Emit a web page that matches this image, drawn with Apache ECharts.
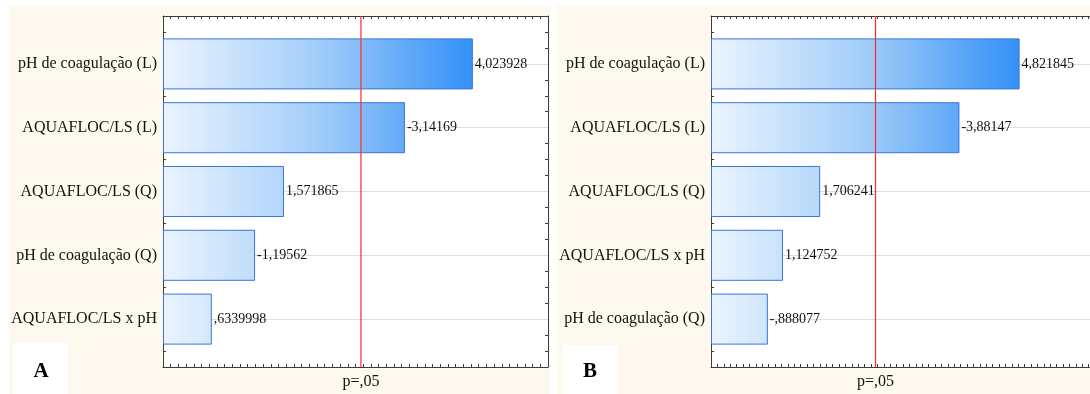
<!DOCTYPE html>
<html>
<head>
<meta charset="utf-8">
<script src="https://cdn.jsdelivr.net/npm/echarts@6/dist/echarts.min.js"></script>
<style>
html,body{margin:0;padding:0;background:#fff;}
#c{width:1090px;height:394px;}
</style>
</head>
<body>
<div id="c"></div>
<script>
// ---- data ----
const categoriesA = ['pH de coagulação (L)', 'AQUAFLOC/LS (L)', 'AQUAFLOC/LS (Q)', 'pH de coagulação (Q)', 'AQUAFLOC/LS x pH'];
const effectsA = [4.023928, -3.14169, 1.571865, -1.19562, 0.6339998];
const categoriesB = ['pH de coagulação (L)', 'AQUAFLOC/LS (L)', 'AQUAFLOC/LS (Q)', 'AQUAFLOC/LS x pH', 'pH de coagulação (Q)'];
const effectsB = [4.821845, -3.88147, 1.706241, 1.124752, -0.888077];
const critT = 2.570582;          // t critical value, p = .05
const critLabel = 'p=,05';
const axisMaxA = 5;
const axisMaxB = 6;
const panelLabels = ['A', 'B'];

const FONT = 'Liberation Serif';
const RED = '#ff2b2b';

function fmt(v) {
  let s = v.toPrecision(7);
  if (s.indexOf('.') >= 0) s = s.replace(/0+$/, '').replace(/\.$/, '');
  s = s.replace(/^(-?)0\./, '$1.');
  return s.replace('.', ',');
}

const panels = [
  { cats: categoriesA, eff: effectsA, max: axisMaxA, frame: {left: 163, top: 16, width: 385, height: 351}, bars: {left: 163, top: 32, width: 385, height: 319} },
  { cats: categoriesB, eff: effectsB, max: axisMaxB, frame: {left: 711, top: 16, width: 384, height: 351}, bars: {left: 711, top: 32, width: 384, height: 319} }
];

const grid = [], xAxis = [], yAxis = [], series = [];
const axisCol = '#3c3c3c';
panels.forEach((p, k) => {
  const gF = grid.length;
  grid.push(Object.assign({show: true, backgroundColor: '#ffffff', borderWidth: 0, outerBoundsMode: 'none', containLabel: false}, p.frame));
  const gB = grid.length;
  grid.push(Object.assign({show: false, outerBoundsMode: 'none', containLabel: false}, p.bars));

  const frameX = (pos, labels) => ({
    type: 'value', gridIndex: gF, position: pos, min: 0, max: p.max, interval: 0.1,
    axisLine: {show: true, onZero: false, lineStyle: {color: axisCol, width: 1}},
    axisTick: {show: true, inside: true, length: 3, lineStyle: {color: axisCol}},
    axisLabel: labels ? {show: true, customValues: [critT], formatter: () => critLabel,
      fontFamily: FONT, fontSize: 16, color: '#111', margin: 7} : {show: false},
    splitLine: {show: false}
  });
  const xF = xAxis.length; xAxis.push(frameX('bottom', true));
  xAxis.push(frameX('top', false));
  const xB = xAxis.length;
  xAxis.push({type: 'value', gridIndex: gB, min: 0, max: p.max, show: false});

  const frameY = (pos) => ({
    type: 'value', gridIndex: gF, position: pos, min: 0, max: 22, interval: 1,
    axisLine: {show: true, onZero: false, lineStyle: {color: axisCol, width: 1}},
    axisTick: {show: true, inside: true, length: 3, lineStyle: {color: axisCol}},
    axisLabel: {show: false}, splitLine: {show: false}
  });
  const yF = yAxis.length; yAxis.push(frameY('left'));
  yAxis.push(frameY('right'));
  const yB = yAxis.length;
  yAxis.push({
    type: 'category', gridIndex: gB, inverse: true, data: p.cats,
    axisLine: {show: false}, axisTick: {show: false}, splitLine: {show: false},
    axisLabel: {fontFamily: FONT, fontSize: 16, color: '#111', margin: 6}
  });

  const eff = p.eff;
  series.push({
    type: 'bar', xAxisIndex: xB, yAxisIndex: yB, barWidth: '80%', z: 2,
    data: eff.map(v => Math.abs(v)),
    itemStyle: {color: '#8ec3fa', borderColor: '#3874dc', borderWidth: 1},
    label: {show: true, position: 'right', distance: 2, fontFamily: FONT, fontSize: 14, color: '#111',
      formatter: (pr) => fmt(eff[pr.dataIndex])},
    markLine: {
      silent: true, z: 1, symbol: 'none', label: {show: false},
      lineStyle: {color: '#dedede', width: 1, type: 'solid'},
      data: p.cats.map(c => ({yAxis: c}))
    }
  });
  series.push({
    type: 'line', xAxisIndex: xF, yAxisIndex: yF, z: 5, silent: true, symbol: 'none',
    color: RED, lineStyle: {color: RED, width: 1.2},
    emphasis: {disabled: true},
    data: [[critT, 0], [critT, 22]]
  });
});

const graphic = [
  {type: 'rect', z: -10, shape: {x: 9, y: 6, width: 541, height: 388}, style: {fill: '#fdf9ef'}, silent: true},
  {type: 'rect', z: -10, shape: {x: 557, y: 6, width: 533, height: 388}, style: {fill: '#fdf9ef'}, silent: true},
  {type: 'rect', z: 10, shape: {x: 13, y: 343, width: 55, height: 51}, style: {fill: '#ffffff'}, silent: true},
  {type: 'rect', z: 10, shape: {x: 563, y: 345, width: 54, height: 49}, style: {fill: '#ffffff'}, silent: true},
  {type: 'text', z: 11, x: 41, y: 372, style: {text: panelLabels[0], fill: '#000', font: 'bold 21px "Liberation Serif"', align: 'center', verticalAlign: 'middle'}},
  {type: 'text', z: 11, x: 590, y: 372, style: {text: panelLabels[1], fill: '#000', font: 'bold 21px "Liberation Serif"', align: 'center', verticalAlign: 'middle'}}
];

const chart = echarts.init(document.getElementById('c'), null, {renderer: 'canvas'});
chart.setOption({animation: false, backgroundColor: '#ffffff', grid, xAxis, yAxis, series, graphic});

// gradient along the value axis, from origin to the longest bar (global pixel coords)
const newSeries = [];
panels.forEach((p, k) => {
  const gB = k * 2 + 1;
  const x0 = chart.convertToPixel({gridIndex: gB}, [0, 0])[0];
  const x1 = chart.convertToPixel({gridIndex: gB}, [Math.max(...p.eff.map(Math.abs)), 0])[0];
  const s = {itemStyle: {color: {type: 'linear', x: x0, y: 0, x2: x1, y2: 0, global: true,
    colorStops: [{offset: 0, color: '#eaf4fe'}, {offset: 0.5, color: '#a2cdf9'}, {offset: 1, color: '#3290f7'}]}}};
  newSeries.push(s, {});
});
chart.setOption({series: newSeries});
</script>
</body>
</html>
